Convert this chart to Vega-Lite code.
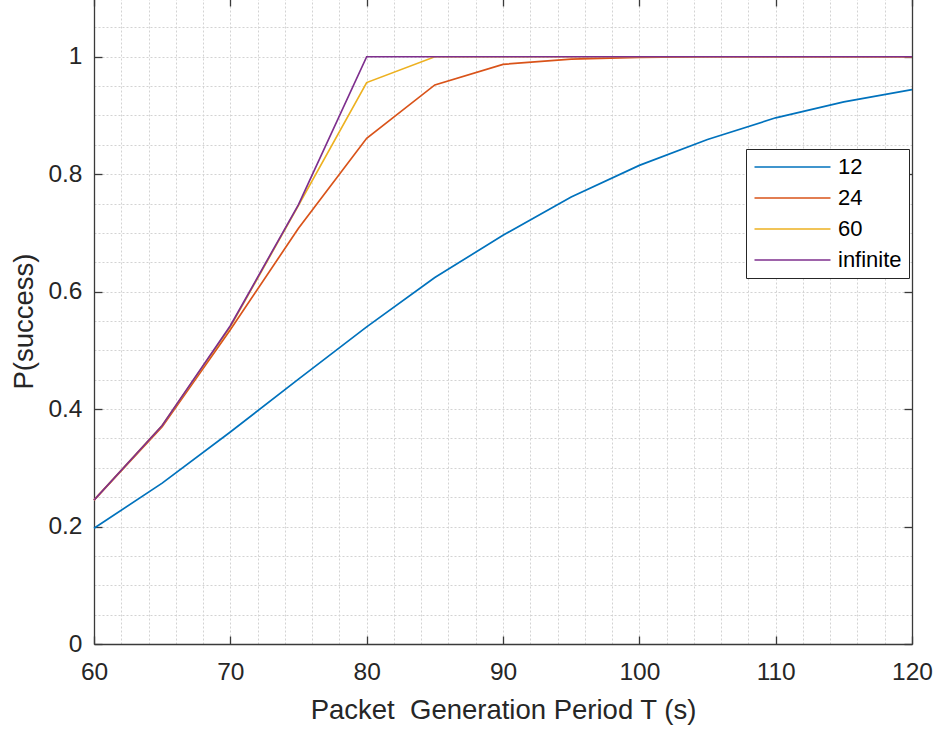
{
  "$schema": "https://vega.github.io/schema/vega-lite/v6.json",
  "width": 818,
  "height": 646,
  "autosize": {"type": "none"},
  "padding": {"left": 94, "top": -2, "right": 28, "bottom": 85},
  "background": "white",
  "config": {
    "view": {"stroke": null},
    "font": "Liberation Sans",
    "axis": {
      "labelFont": "Liberation Sans",
      "titleFont": "Liberation Sans",
      "labelColor": "#262626",
      "titleColor": "#262626",
      "titleFontWeight": "normal",
      "domainColor": "#3a3a3a",
      "domainWidth": 1.3,
      "tickColor": "#3a3a3a",
      "tickWidth": 1.3,
      "labelFlush": false
    }
  },
  "data": {
    "values": [
      {"T": 60, "P": 0.197, "series": "12"},
      {"T": 65, "P": 0.274, "series": "12"},
      {"T": 70, "P": 0.361, "series": "12"},
      {"T": 75, "P": 0.451, "series": "12"},
      {"T": 80, "P": 0.540, "series": "12"},
      {"T": 85, "P": 0.624, "series": "12"},
      {"T": 90, "P": 0.696, "series": "12"},
      {"T": 95, "P": 0.761, "series": "12"},
      {"T": 100, "P": 0.815, "series": "12"},
      {"T": 105, "P": 0.859, "series": "12"},
      {"T": 110, "P": 0.896, "series": "12"},
      {"T": 115, "P": 0.923, "series": "12"},
      {"T": 120, "P": 0.944, "series": "12"},
      {"T": 60, "P": 0.245, "series": "24"},
      {"T": 65, "P": 0.370, "series": "24"},
      {"T": 70, "P": 0.535, "series": "24"},
      {"T": 75, "P": 0.708, "series": "24"},
      {"T": 80, "P": 0.861, "series": "24"},
      {"T": 85, "P": 0.952, "series": "24"},
      {"T": 90, "P": 0.987, "series": "24"},
      {"T": 95, "P": 0.996, "series": "24"},
      {"T": 100, "P": 0.999, "series": "24"},
      {"T": 105, "P": 1.0, "series": "24"},
      {"T": 110, "P": 1.0, "series": "24"},
      {"T": 115, "P": 1.0, "series": "24"},
      {"T": 120, "P": 1.0, "series": "24"},
      {"T": 60, "P": 0.245, "series": "60"},
      {"T": 65, "P": 0.372, "series": "60"},
      {"T": 70, "P": 0.540, "series": "60"},
      {"T": 75, "P": 0.747, "series": "60"},
      {"T": 80, "P": 0.956, "series": "60"},
      {"T": 85, "P": 1.0, "series": "60"},
      {"T": 90, "P": 1.0, "series": "60"},
      {"T": 95, "P": 1.0, "series": "60"},
      {"T": 100, "P": 1.0, "series": "60"},
      {"T": 105, "P": 1.0, "series": "60"},
      {"T": 110, "P": 1.0, "series": "60"},
      {"T": 115, "P": 1.0, "series": "60"},
      {"T": 120, "P": 1.0, "series": "60"},
      {"T": 60, "P": 0.245, "series": "infinite"},
      {"T": 65, "P": 0.372, "series": "infinite"},
      {"T": 70, "P": 0.542, "series": "infinite"},
      {"T": 75, "P": 0.748, "series": "infinite"},
      {"T": 80, "P": 1.0, "series": "infinite"},
      {"T": 85, "P": 1.0, "series": "infinite"},
      {"T": 90, "P": 1.0, "series": "infinite"},
      {"T": 95, "P": 1.0, "series": "infinite"},
      {"T": 100, "P": 1.0, "series": "infinite"},
      {"T": 105, "P": 1.0, "series": "infinite"},
      {"T": 110, "P": 1.0, "series": "infinite"},
      {"T": 115, "P": 1.0, "series": "infinite"},
      {"T": 120, "P": 1.0, "series": "infinite"}
    ]
  },
  "layer": [
    {
      "mark": {"type": "line", "opacity": 0},
      "encoding": {
        "x": {
          "field": "T",
          "type": "quantitative",
          "scale": {"domain": [60, 120], "nice": false, "zero": false},
          "axis": {
            "orient": "top",
            "values": [60,62,64,66,68,70,72,74,76,78,80,82,84,86,88,90,92,94,96,98,100,102,104,106,108,110,112,114,116,118,120],
            "grid": true,
            "gridColor": "#d3d3d3",
            "gridDash": [2, 2],
            "gridWidth": 1,
            "labels": false,
            "title": null,
            "tickSize": -8,
            "tickColor": {"condition": {"test": "datum.value % 10 === 0", "value": "#3a3a3a"}, "value": "transparent"}
          }
        },
        "y": {
          "field": "P",
          "type": "quantitative",
          "scale": {"domain": [0, 1.1], "nice": false, "zero": true},
          "axis": {
            "orient": "right",
            "values": [0,0.05,0.1,0.15,0.2,0.25,0.3,0.35,0.4,0.45,0.5,0.55,0.6,0.65,0.7,0.75,0.8,0.85,0.9,0.95,1,1.05],
            "grid": true,
            "gridColor": "#d3d3d3",
            "gridDash": [2, 2],
            "gridWidth": 1,
            "labels": false,
            "title": null,
            "tickSize": -8,
            "tickColor": {"condition": {"test": "abs(datum.value*5 - round(datum.value*5)) < 0.001", "value": "#3a3a3a"}, "value": "transparent"}
          }
        }
      }
    },
    {
      "mark": {"type": "line", "strokeWidth": 1.7},
      "encoding": {
        "x": {
          "field": "T",
          "type": "quantitative",
          "axis": {
            "orient": "bottom",
            "values": [60, 70, 80, 90, 100, 110, 120],
            "grid": false,
            "tickSize": -8,
            "labelPadding": 24,
            "labelFontSize": 24.5,
            "title": "Packet\u00a0 Generation Period T (s)",
            "titleFontSize": 27.5,
            "titlePadding": 13
          }
        },
        "y": {
          "field": "P",
          "type": "quantitative",
          "axis": {
            "orient": "left",
            "values": [0, 0.2, 0.4, 0.6, 0.8, 1],
            "format": ".1~f",
            "grid": false,
            "tickSize": -8,
            "labelPadding": 20,
            "labelFontSize": 24.5,
            "title": "P(success)",
            "titleFontSize": 27.5,
            "titlePadding": 9
          }
        },
        "color": {
          "field": "series",
          "type": "nominal",
          "scale": {
            "domain": ["12", "24", "60", "infinite"],
            "range": ["#0072BD", "#D95319", "#EDB120", "#7E2F8E"]
          },
          "legend": {
            "title": null,
            "orient": "none",
            "legendX": 652,
            "legendY": 151,
            "padding": 7,
            "strokeColor": "#262626",
            "fillColor": "white",
            "symbolType": "M-1,0H7",
            "symbolSize": 361,
            "symbolStrokeWidth": 1.5,
            "labelFont": "Liberation Sans",
            "labelFontSize": 22,
            "labelColor": "#000000",
            "labelOffset": 63,
            "rowPadding": 9
          }
        }
      }
    }
  ],
  "resolve": {"axis": {"x": "independent", "y": "independent"}}
}
